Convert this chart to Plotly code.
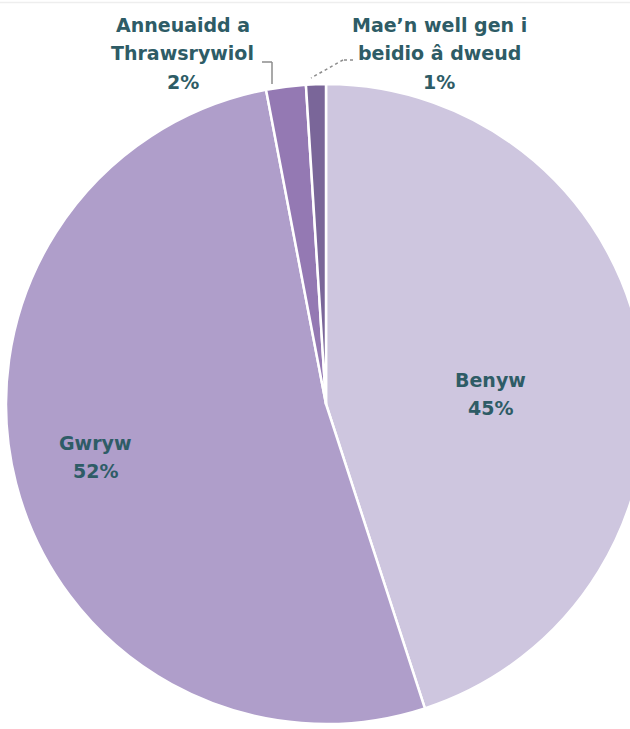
import plotly.graph_objects as go

labels = ["Benyw", "Gwryw", "Anneuaidd a Thrawsrywiol", "Mae’n well gen i beidio â dweud"]
label_lines = [["Benyw"], ["Gwryw"], ["Anneuaidd a", "Thrawsrywiol"], ["Mae’n well gen i", "beidio â dweud"]]
values = [45, 52, 2, 1]
colors = ["#CEC6DF", "#AF9ECA", "#9479B3", "#7A6699"]

W, H = 650, 729
CX, CY, R = 326, 404, 320  # pixel centre / radius of the pie
TEXT = "#2E5C66"
FONT = "DejaVu Sans"
FS = 19
LINE_H = 28.5

# label block centres (pixels) and leader-line paths (pixels)
label_centres = [(490, 394), (95, 457), (183, 53), (439, 53)]
leaders = [None, None,
           ([(262, 62), (272, 62), (272, 84)], "solid"),
           ([(353, 60), (343, 60), (311, 78)], "dot")]

dom_x = [(CX - R) / W, (CX + R) / W]
dom_y = [(H - CY - R) / H, (H - CY + R) / H]

fig = go.Figure(go.Pie(
    labels=labels, values=values, sort=False, direction="clockwise", rotation=0,
    marker=dict(colors=colors, line=dict(color="white", width=2.5)),
    textinfo="none",
    domain=dict(x=dom_x, y=dom_y), showlegend=False, hoverinfo="label+percent",
))

for i, v in enumerate(values):
    lines = label_lines[i] + [f"{v}%"]
    cx, cy = label_centres[i]
    n = len(lines)
    for k, line in enumerate(lines):
        y = cy + (k - (n - 1) / 2) * LINE_H
        fig.add_annotation(
            x=cx / W, y=1 - y / H, xref="paper", yref="paper",
            xanchor="center", yanchor="middle",
            text=line, showarrow=False,
            font=dict(family=FONT, size=FS, color=TEXT, weight=700),
        )
    if leaders[i]:
        pts, dash = leaders[i]
        for (x0, y0), (x1, y1) in zip(pts[:-1], pts[1:]):
            fig.add_shape(type="line", xref="paper", yref="paper",
                          x0=x0 / W, y0=1 - y0 / H, x1=x1 / W, y1=1 - y1 / H,
                          line=dict(color="#8C8C8C", width=1.5, dash=dash))

# faint top rule
fig.add_shape(type="line", xref="paper", yref="paper", x0=0, x1=1,
              y0=1 - 2.5 / H, y1=1 - 2.5 / H, line=dict(color="#EEEEEE", width=1.5))

fig.update_layout(
    width=W, height=H, margin=dict(l=0, r=0, t=0, b=0),
    paper_bgcolor="white", plot_bgcolor="white",
)

fig.write_html("out.html", config={"displayModeBar": False},
               post_script="document.body.style.margin='0';document.body.style.overflow='hidden';")
